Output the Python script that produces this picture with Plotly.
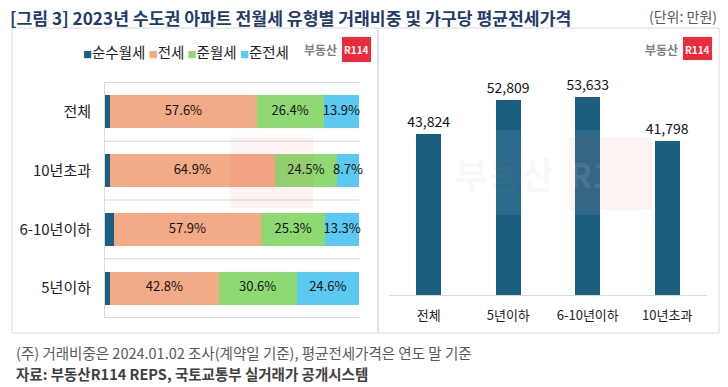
import plotly.graph_objects as go

# ---------------- data ----------------
types = ["순수월세", "전세", "준월세", "준전세"]
type_colors = ["#1A5E82", "#F3AA86", "#8FD973", "#5CC9F3"]
share_categories = ["전체", "10년초과", "6-10년이하", "5년이하"]
share_pure_monthly = [2.1, 1.9, 3.5, 2.0]
share_jeonse = [57.6, 64.9, 57.9, 42.8]
share_semi_monthly = [26.4, 24.5, 25.3, 30.6]
share_semi_jeonse = [13.9, 8.7, 13.3, 24.6]

price_categories = ["전체", "5년이하", "6-10년이하", "10년초과"]
price_values = [43824, 52809, 53633, 41798]
bar_color = "#1A5E80"

title_text = "[그림 3] 2023년 수도권 아파트 전월세 유형별 거래비중 및 가구당 평균전세가격"
unit_text = "(단위: 만원)"
note_text = "(주) 거래비중은 2024.01.02 조사(계약일 기준), 평균전세가격은 연도 말 기준"
source_text = "자료: 부동산R114 REPS, 국토교통부 실거래가 공개시스템"

W, H = 728, 387
FONT = "Noto Sans CJK KR"


def px(x):
    return x / W


def py(y):
    return 1 - y / H


fig = go.Figure()

series = [share_pure_monthly, share_jeonse, share_semi_monthly, share_semi_jeonse]
cum = [0.0] * len(share_categories)
for i, (name, vals, col) in enumerate(zip(types, series, type_colors)):
    fig.add_trace(go.Bar(
        x=vals, y=share_categories, orientation="h", name=name,
        marker=dict(color=col, line=dict(width=0)),
        xaxis="x", yaxis="y", showlegend=False,
    ))
    mids = [c + v / 2 for c, v in zip(cum, vals)]
    if i > 0:
        fig.add_trace(go.Scatter(
            x=mids, y=share_categories, mode="text",
            text=[f"{v:.1f}%" for v in vals],
            textfont=dict(size=13, color="#111111", family=FONT),
            xaxis="x", yaxis="y", showlegend=False, hoverinfo="skip", cliponaxis=False,
        ))
    cum = [c + v for c, v in zip(cum, vals)]

fig.add_trace(go.Bar(
    x=price_categories, y=price_values,
    marker=dict(color=bar_color, line=dict(width=0)),
    text=[f"{v:,}" for v in price_values], textposition="outside",
    cliponaxis=False, constraintext="none",
    textfont=dict(size=14, color="#111111", family=FONT),
    xaxis="x2", yaxis="y2", showlegend=False, width=0.31,
))

shapes = []
# panel boxes
shapes.append(dict(type="rect", xref="paper", yref="paper",
                   x0=px(12), x1=px(378), y0=py(333), y1=py(28),
                   line=dict(color="#D9D9D9", width=1), layer="below"))
shapes.append(dict(type="rect", xref="paper", yref="paper",
                   x0=px(378), x1=px(719), y0=py(333), y1=py(28),
                   line=dict(color="#D9D9D9", width=1), layer="below"))
# category separators in left chart
for k in range(len(share_categories) + 1):
    shapes.append(dict(type="line", xref="paper", yref="y",
                       x0=px(105), x1=px(359), y0=k - 0.5, y1=k - 0.5,
                       line=dict(color="#D9D9D9", width=1), layer="below"))

# watermarks (faint)
shapes.append(dict(type="rect", xref="paper", yref="paper",
                   x0=px(230), x1=px(313), y0=py(208), y1=py(137),
                   fillcolor="rgba(238,43,59,0.06)", line=dict(width=0), layer="above"))
shapes.append(dict(type="rect", xref="paper", yref="paper",
                   x0=px(448), x1=px(652), y0=py(215), y1=py(130),
                   fillcolor="rgba(255,255,255,0.08)", line=dict(width=0), layer="above"))
shapes.append(dict(type="rect", xref="paper", yref="paper",
                   x0=px(569), x1=px(652), y0=py(210), y1=py(137),
                   fillcolor="rgba(238,43,59,0.06)", line=dict(width=0), layer="above"))

# logos red boxes
shapes.append(dict(type="rect", xref="paper", yref="paper",
                   x0=px(342), x1=px(371), y0=py(62), y1=py(37),
                   fillcolor="#EE2B3B", line=dict(width=0)))
shapes.append(dict(type="rect", xref="paper", yref="paper",
                   x0=px(683), x1=px(712), y0=py(60), y1=py(37),
                   fillcolor="#EE2B3B", line=dict(width=0)))

annotations = []
annotations.append(dict(text="<b>" + title_text + "</b>", x=px(8), y=py(17), xref="paper", yref="paper",
                        xanchor="left", yanchor="middle", showarrow=False,
                        font=dict(size=17.2, color="#1F3B6B", family=FONT)))
annotations.append(dict(text=unit_text, x=px(719), y=py(16), xref="paper", yref="paper",
                        xanchor="right", yanchor="middle", showarrow=False,
                        font=dict(size=14, color="#595959", family=FONT)))
annotations.append(dict(text=note_text, x=px(14), y=py(352), xref="paper", yref="paper",
                        xanchor="left", yanchor="middle", showarrow=False,
                        font=dict(size=14.5, color="#595959", family=FONT)))
annotations.append(dict(text="<b>" + source_text + "</b>", x=px(14), y=py(373), xref="paper", yref="paper",
                        xanchor="left", yanchor="middle", showarrow=False,
                        font=dict(size=14.5, color="#404040", family=FONT)))

# custom legend
legend_html = "&nbsp;".join(
    f'<span style="color:{c};font-size:9px">■</span>{n}' for n, c in zip(types, type_colors))
annotations.append(dict(text=legend_html, x=px(81), y=py(52), xref="paper", yref="paper",
                        xanchor="left", yanchor="middle", showarrow=False,
                        font=dict(size=14.5, color="#222222", family=FONT)))

# logos text
for tx, bx in [(339, 356.5), (680, 697.5)]:
    annotations.append(dict(text="<b>부동산</b>", x=px(tx), y=py(50), xref="paper", yref="paper",
                            xanchor="right", yanchor="middle", showarrow=False,
                            font=dict(size=12, color="#7F7F7F", family=FONT)))
    annotations.append(dict(text="<b>R114</b>", x=px(bx), y=py(50), xref="paper", yref="paper",
                            xanchor="center", yanchor="middle", showarrow=False,
                            font=dict(size=10, color="#FFFFFF", family=FONT)))

# right-panel watermark text
annotations.append(dict(text="<b>부동산</b>", x=px(504), y=py(173), xref="paper", yref="paper",
                        xanchor="center", yanchor="middle", showarrow=False,
                        font=dict(size=36, color="rgba(150,150,150,0.07)", family=FONT)))
annotations.append(dict(text="<b>R114</b>", x=px(610), y=py(173), xref="paper", yref="paper",
                        xanchor="center", yanchor="middle", showarrow=False,
                        font=dict(size=34, color="rgba(255,255,255,0.10)", family=FONT)))

fig.update_layout(
    width=W, height=H, margin=dict(l=0, r=0, t=0, b=0),
    paper_bgcolor="white", plot_bgcolor="white",
    barmode="stack", bargap=0.44,
    font=dict(family=FONT, color="#222222"),
    showlegend=False,
    shapes=shapes, annotations=annotations,
    xaxis=dict(domain=[px(105), px(359)], range=[0, 100], visible=False, fixedrange=True),
    yaxis=dict(domain=[py(318), py(82)], autorange="reversed", type="category",
               showgrid=False, showline=True, linecolor="#D9D9D9", linewidth=1,
               ticks="", ticklabelstandoff=10,
               tickfont=dict(size=15, color="#222222", family=FONT), anchor="x"),
    xaxis2=dict(domain=[px(389), px(707)], anchor="y2", type="category",
                showgrid=False, showline=True, linecolor="#D9D9D9", linewidth=1,
                ticks="", ticklabelstandoff=8,
                tickfont=dict(size=13, color="#222222", family=FONT)),
    yaxis2=dict(domain=[py(295), py(74)], anchor="x2", range=[0, 60000],
                visible=False, showgrid=False),
)

fig.write_html("out.html", config={"displayModeBar": False},
               post_script="document.body.style.margin='0';document.body.style.padding='0';")
